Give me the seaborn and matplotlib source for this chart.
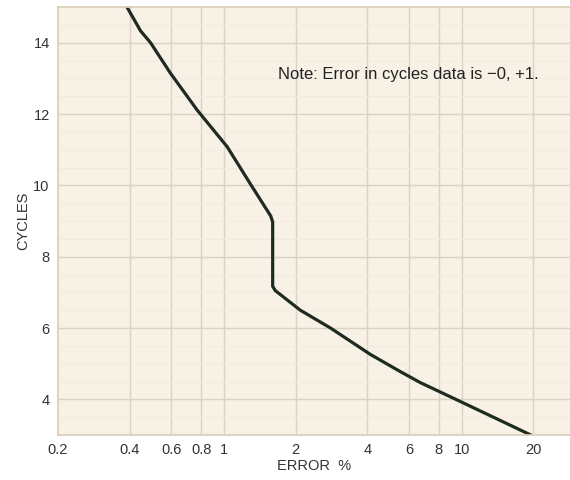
import matplotlib
matplotlib.use("Agg")
import matplotlib.pyplot as plt
import numpy as np
import pandas as pd
import seaborn as sns

# values (error %, cycles)
error_pct = [0.39, 0.445, 0.49, 0.595, 0.77, 1.03, 1.3, 1.57, 1.6, 1.6,
             1.64, 2.09, 2.8, 4.12, 5.5, 6.68, 9.85, 19.5]
cycles = [15.0, 14.33, 14.0, 13.14, 12.11, 11.08, 10.0, 9.14, 8.97, 7.17,
          7.05, 6.5, 6.0, 5.26, 4.78, 4.47, 3.94, 3.0]

x_ticks = [0.2, 0.4, 0.6, 0.8, 1, 2, 4, 6, 8, 10, 20]
x_tick_labels = ["0.2", "0.4", "0.6", "0.8", "1", "2", "4", "6", "8", "10", "20"]
y_ticks = [4, 6, 8, 10, 12, 14]

df = pd.DataFrame({"error": error_pct, "cycles": cycles})

sns.set_theme(style="white")
plt.rcParams['font.family'] = ['Liberation Sans', 'DejaVu Sans']

fig = plt.figure(figsize=(5.7, 4.8), dpi=100)
ax = fig.add_axes([58 / 570, 45 / 480, 512 / 570, 428 / 480])
ax.set_facecolor("#f7f1e6")

# estimator=None keeps the vertical step (two points share x = 1.6)
sns.lineplot(data=df, x="error", y="cycles", sort=False, estimator=None,
             ax=ax, color="#1e2a22", linewidth=2.3)

ax.set_xscale("log")
ax.set_xlim(0.2, 28.5)
ax.set_ylim(3, 15)

# paper grid
for xv in x_ticks[1:]:
    ax.axvline(xv, color="#dbd2c3", linewidth=1.0, zorder=0)
for yv in y_ticks:
    ax.axhline(yv, color="#dbd2c3", linewidth=1.0, zorder=0)
for yv in [3.5, 4.5, 5, 5.5, 6.5, 7, 7.5, 8.5, 9, 9.5, 10.5, 11, 11.5, 12.5, 13, 13.5, 14.5]:
    ax.axhline(yv, color="#f0e9dd", linewidth=0.6, zorder=0)

ax.set_xticks(x_ticks)
ax.set_xticklabels(x_tick_labels)
ax.xaxis.set_minor_locator(matplotlib.ticker.NullLocator())
ax.set_yticks(y_ticks)
ax.tick_params(axis="both", length=0, labelsize=10.5, colors="#333333", pad=6)

for s in ax.spines.values():
    s.set_visible(False)
for side in ["left", "bottom", "top"]:
    ax.spines[side].set_visible(True)
    ax.spines[side].set_color("#d8ceb8")

ax.set_xlabel("ERROR  %", fontsize=10.5, color="#333333", labelpad=1)
ax.set_ylabel("CYCLES", fontsize=10.5, color="#333333", labelpad=2)

ax.text(0.43, 0.842, "Note: Error in cycles data is \u22120, +1.",
        transform=ax.transAxes, fontsize=12, color="#222222", va="center")

fig.savefig("out.png", dpi=100)
